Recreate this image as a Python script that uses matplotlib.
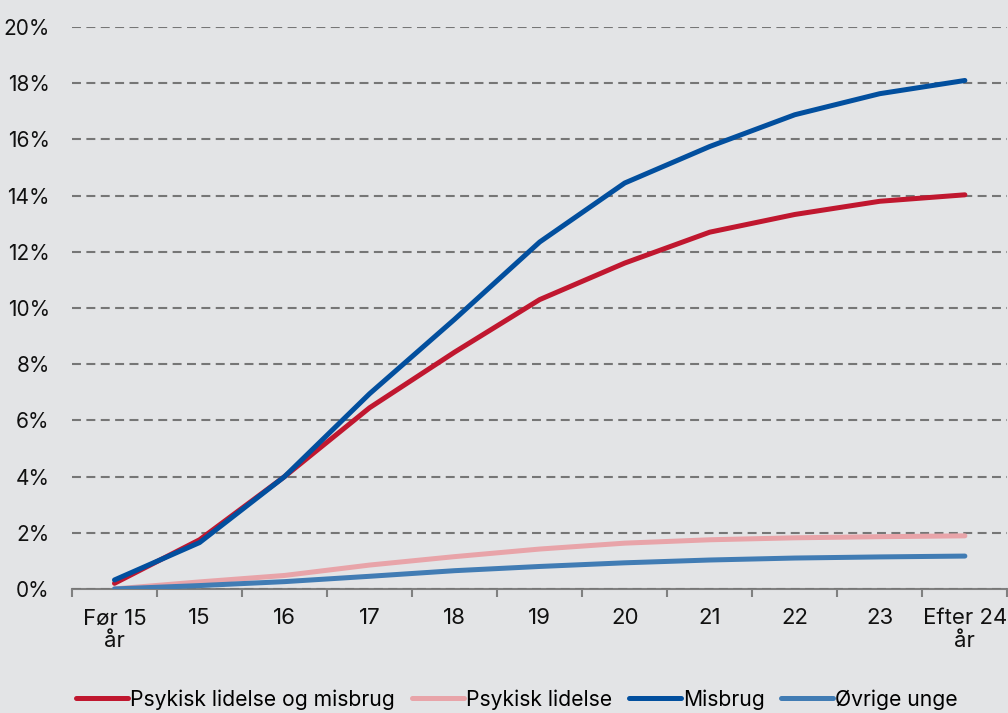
"""Cumulative share of young people by age group."""

import matplotlib.pyplot as plt
from matplotlib.ticker import FixedLocator, PercentFormatter

ages = ["Før 15\når", "15", "16", "17", "18", "19", "20", "21", "22", "23", "Efter 24\når"]

psykisk_og_misbrug = [0.2, 1.75, 4.0, 6.45, 8.43, 10.3, 11.6, 12.7, 13.33, 13.8, 14.03]
psykisk = [0.0, 0.25, 0.48, 0.85, 1.15, 1.42, 1.63, 1.75, 1.82, 1.86, 1.89]
misbrug = [0.32, 1.65, 4.0, 6.95, 9.6, 12.35, 14.45, 15.75, 16.88, 17.63, 18.1]
oevrige = [0.0, 0.12, 0.26, 0.45, 0.65, 0.8, 0.93, 1.03, 1.1, 1.14, 1.17]

series = [
    ("Psykisk lidelse og misbrug", psykisk_og_misbrug, "#C0172F"),
    ("Psykisk lidelse", psykisk, "#E8A4A9"),
    ("Misbrug", misbrug, "#024F9E"),
    ("Øvrige unge", oevrige, "#417CB4"),
]

bg = "#E3E4E6"
plt.rcParams["font.family"] = ["Inter", "DejaVu Sans"]
plt.rcParams["font.size"] = 15

fig = plt.figure(figsize=(10.08, 7.13), dpi=100, facecolor=bg)
ax = fig.add_axes([0.0714, 0.174, 0.928, 0.788], facecolor=bg)

x = range(len(ages))
for name, vals, color in series:
    ax.plot(x, vals, color=color, lw=3.6, label=name, solid_capstyle="round")

ax.set_xlim(-0.5, len(ages) - 0.5)
ax.set_ylim(0, 20)
ax.set_yticks(range(0, 21, 2))
ax.yaxis.set_major_formatter(PercentFormatter(decimals=0))
ax.tick_params(axis="y", length=0, pad=16, labelcolor="#111111", labelsize=15)

ax.xaxis.set_major_locator(FixedLocator([i - 0.5 for i in range(len(ages) + 1)]))
ax.xaxis.set_minor_locator(FixedLocator(list(x)))
ax.set_xticklabels([])
ax.set_xticklabels(ages, minor=True)
ax.tick_params(axis="x", which="major", length=6, width=1.5, color="#808080")
ax.tick_params(axis="x", which="minor", length=0, pad=14, labelcolor="#111111", labelsize=16)
for lbl in ax.get_xticklabels(minor=True):
    lbl.set_linespacing(1.15)

ax.grid(axis="y", color="#767676", lw=1.5, linestyle=(0, (4.3, 2.6)))
ax.set_axisbelow(True)
for side in ["top", "right", "left"]:
    ax.spines[side].set_visible(False)
ax.spines["bottom"].set_color("#808080")
ax.spines["bottom"].set_linewidth(1.5)
ax.spines["bottom"].set_zorder(0.5)

fig.legend(
    loc="lower center",
    bbox_to_anchor=(0.513, -0.022),
    ncol=4,
    frameon=False,
    handlelength=2.45,
    handletextpad=0.1,
    columnspacing=0.8,
    fontsize=15.2,
)

fig.savefig("out.png", dpi=100, facecolor=bg)
